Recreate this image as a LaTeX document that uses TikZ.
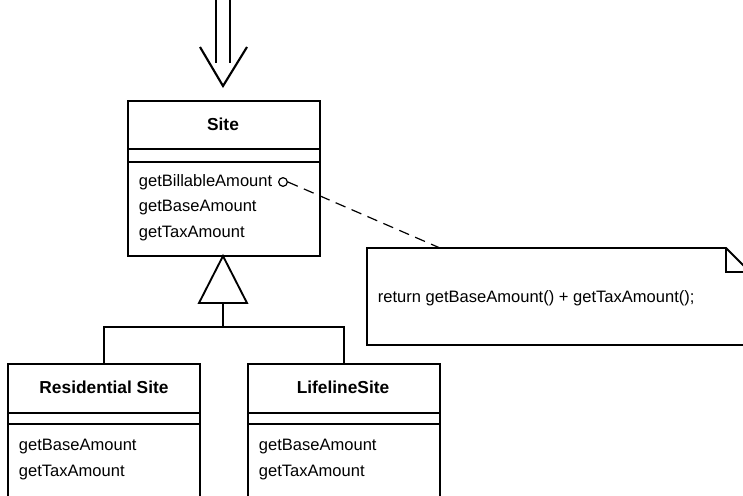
\documentclass[tikz,border=0pt]{standalone}
\usepackage{fontspec}
\setmainfont{Liberation Sans}
\begin{document}
\begin{tikzpicture}[x=0.75pt,y=-0.75pt,
  line width=1.4pt,
  comp/.style={draw, line width=1.4pt, anchor=north west, minimum width=144pt, inner sep=0pt},
  cname/.style={font=\fontsize{13}{15}\selectfont\bfseries},
  meth/.style={font=\fontsize{12.4}{14}\selectfont, anchor=west, inner sep=0pt},
  notetext/.style={font=\fontsize{12.4}{14}\selectfont, anchor=west, inner sep=0pt}]
\useasboundingbox (0,0) rectangle (743,496);
\clip (0,0) rectangle (743,496);
% incoming arrow
\coordinate (a1) at (216,0);
\coordinate (a2) at (230,0);
\coordinate (a1e) at (216,63);
\coordinate (a2e) at (230,63);
\coordinate (chl) at (200,47);
\coordinate (chr) at (247,47);
\coordinate (chtip) at (223,86);
\draw[line width=1.6pt] (a1) -- (a1e);
\draw[line width=1.6pt] (a2) -- (a2e);
\draw[line width=1.6pt] (chl) -- (chtip) -- (chr);
% Site class
\node[comp, minimum height=36pt] (sitename) at (127,100) {};
\node[cname] (sitelbl) at (223,124) {Site};
\node[comp, minimum height=9.75pt] (siteattr) at (127,148) {};
\node[comp, minimum height=70.5pt] (siteops) at (127,161) {};
\node[meth] (m1) at (138,182) {getBillableAmount};
\node[meth] (m2) at (138,208) {getBaseAmount};
\node[meth] (m3) at (138,234) {getTaxAmount};
\node[draw, circle, line width=0.9pt, minimum size=6.5pt, inner sep=0pt] (dot) at (283,182) {};
% note
\coordinate (nA) at (367,248);
\coordinate (nB) at (726,248);
\coordinate (nC) at (750,272);
\coordinate (nD) at (750,345);
\coordinate (nE) at (367,345);
\draw (nA) -- (nB) -- (nC) -- (nD) -- (nE) -- cycle;
\coordinate (nF) at (726,272);
\draw (nB) -- (nF) -- (nC);
\node[notetext] (note) at (377,298) {return getBaseAmount() + getTaxAmount();};
\coordinate (noteanchor) at (440,248);
\draw[dashed, line width=0.9pt, dash pattern=on 8pt off 5pt] (dot.east) -- (noteanchor);
% generalization
\coordinate (tapex) at (223,256);
\coordinate (tl) at (199,303);
\coordinate (tr) at (247,303);
\coordinate (tb) at (223,303);
\coordinate (tj) at (223,327);
\draw (tapex) -- (tl) -- (tr) -- cycle;
\draw (tb) -- (tj);
% Residential Site
\node[comp, minimum height=36.75pt] (resname) at (7,363) {};
\node[cname] (reslbl) at (104,387) {Residential Site};
\node[comp, minimum height=8.25pt] (resattr) at (7,412) {};
\node[comp, minimum height=90pt] (resops) at (7,423) {};
\node[meth] (r1) at (18,447) {getBaseAmount};
\node[meth] (r2) at (18,473) {getTaxAmount};
% LifelineSite
\node[comp, minimum height=36.75pt] (lifname) at (247,363) {};
\node[cname] (liflbl) at (343,387) {LifelineSite};
\node[comp, minimum height=8.25pt] (lifattr) at (247,412) {};
\node[comp, minimum height=90pt] (lifops) at (247,423) {};
\node[meth] (l1) at (258,447) {getBaseAmount};
\node[meth] (l2) at (258,473) {getTaxAmount};
% tree lines
\draw (tj) -| (resname.north);
\draw (tj) -| (lifname.north);
\end{tikzpicture}
\end{document}
